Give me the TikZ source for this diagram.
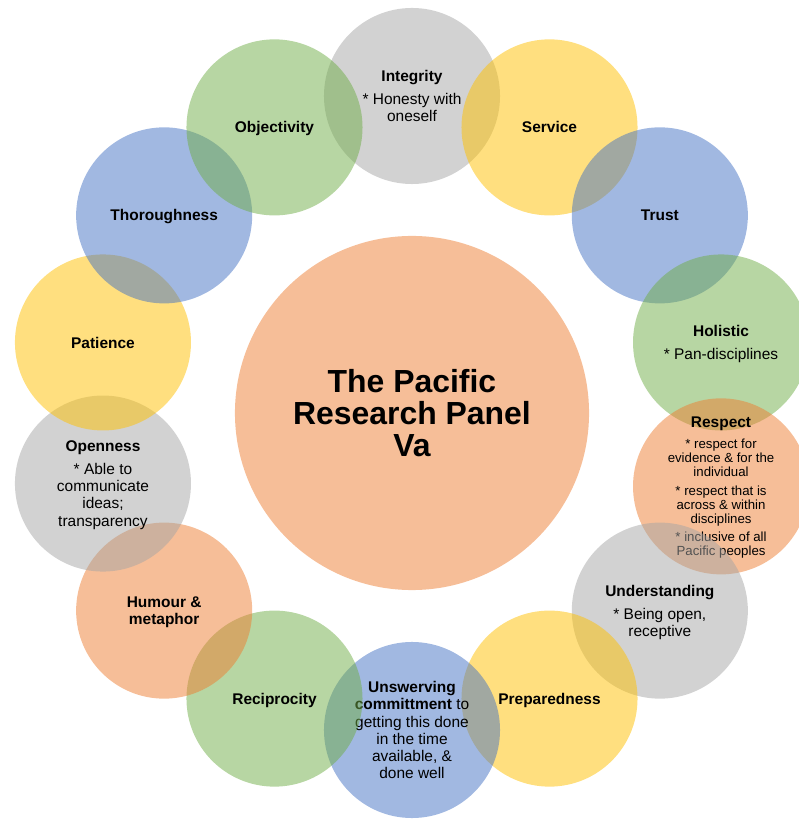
\documentclass[tikz,border=0pt]{standalone}
\usepackage{fontspec}
\setmainfont{Liberation Sans}
\usepackage{tikz}
\definecolor{vgreyc}{HTML}{A5A5A5}
\definecolor{vgoldc}{HTML}{FFC000}
\definecolor{vbluec}{HTML}{4472C4}
\definecolor{vgreenc}{HTML}{70AD47}
\definecolor{vorangec}{HTML}{ED7D31}

\begin{document}
\begin{tikzpicture}[x=0.025cm,y=0.025cm,
                    value/.style={circle,minimum size=4.4cm,inner sep=0pt,align=center,
                                  text depth=0pt,fill opacity=0.5,text opacity=1,
                                  font=\fontsize{11}{12.2}\selectfont},
                    vgrey/.style={value,fill=vgreyc},
                    vgold/.style={value,fill=vgoldc},
                    vblue/.style={value,fill=vbluec},
                    vgreen/.style={value,fill=vgreenc},
                    vorange/.style={value,fill=vorangec}]
      \useasboundingbox (-412,-406) rectangle (387,413);
      \clip (-412,-406) rectangle (387,413);
      \node[vorange,minimum size=8.85cm,font=\fontsize{22.7}{22.7}\selectfont\bfseries]
           (panel) at (0,0) {The Pacific\\Research Panel\\Va};
      \node[vgrey]  (integrity)     at (90:317)      {\textbf{Integrity}\\[4pt]* Honesty with\\oneself};
      \node[vgold]  (service)       at (64.29:317)   {\textbf{Service}};
      \node[vblue]  (trust)         at (38.57:317)   {\textbf{Trust}};
      \node[vgreen] (holistic)      at (12.86:317)   {\textbf{Holistic}\\[4pt]* Pan-disciplines};
      \node[vorange,font=\fontsize{9.4}{10}\selectfont,yshift=-2pt]
                    (respect)       at (-12.86:317)  {{\fontsize{11}{12}\selectfont\bfseries Respect}\\[5pt]
                                                      * respect for\\evidence \& for the\\individual\\[3pt]
                                                      * respect that is\\across \& within\\disciplines\\[3pt]
                                                      * inclusive of all\\Pacific peoples};
      \node[vgrey]  (understanding) at (-38.57:317)  {\textbf{Understanding}\\[4pt]* Being open,\\receptive};
      \node[vgold]  (preparedness)  at (-64.29:317)  {\textbf{Preparedness}};
      \node[vblue]  (unswerving)    at (-90:317)     {\textbf{Unswerving}\\\textbf{committment} to\\getting this done\\
                                                      in the time\\available, \&\\done well};
      \node[vgreen] (reciprocity)   at (-115.71:317) {\textbf{Reciprocity}};
      \node[vorange](humour)        at (-141.43:317) {\textbf{Humour \&}\\\textbf{metaphor}};
      \node[vgrey]  (openness)      at (-167.14:317) {\textbf{Openness}\\[4pt]* Able to\\communicate\\ideas;\\transparency};
      \node[vgold]  (patience)      at (167.14:317)  {\textbf{Patience}};
      \node[vblue]  (thoroughness)  at (141.43:317)  {\textbf{Thoroughness}};
      \node[vgreen] (objectivity)   at (115.71:317)  {\textbf{Objectivity}};
\end{tikzpicture}
\end{document}
